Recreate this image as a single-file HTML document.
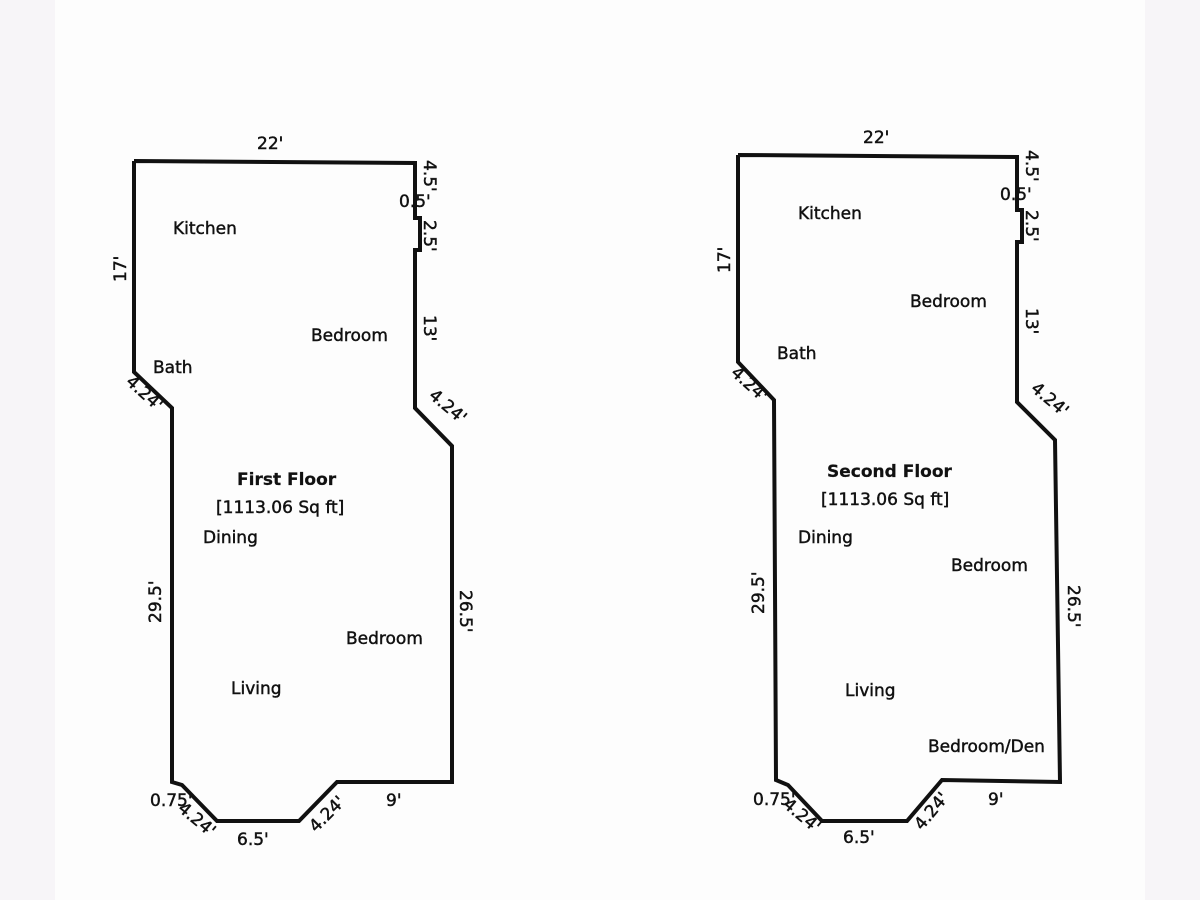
<!DOCTYPE html>
<html><head><meta charset="utf-8"><style>
html,body{margin:0;padding:0;background:#f7f5f8;}
svg{display:block;}
text{font-family:"DejaVu Sans","Liberation Sans",sans-serif;font-size:17px;fill:#111;stroke:#111;stroke-width:0.45px;}
.b{font-weight:bold;stroke-width:0.2px;}
</style></head><body>
<svg width="1200" height="900" xmlns="http://www.w3.org/2000/svg">
<rect x="0" y="0" width="1200" height="900" fill="#f7f5f8"/>
<rect x="55" y="0" width="1090" height="900" fill="#fdfdfd"/>
<g fill="none" stroke="#111" stroke-width="4" stroke-linejoin="miter">
<polyline points="134,161 415,163 415,218 420,218 420,250 415,250 415,408 452,446 452,782 337,782 299,821 217,821 182,785 172,782 172,408 134,372 134,161"/>
<polyline points="738,155 1017,157 1017,210 1022,210 1022,242 1017,242 1017,402 1055,440 1060,782 942,780 907,821 822,821 788,785 776,780 774,400 738,362 738,155"/>
</g>
<!-- First floor -->
<text x="257" y="149">22'</text>
<text x="173" y="234">Kitchen</text>
<text x="311" y="341">Bedroom</text>
<text x="153" y="373">Bath</text>
<text class="b" x="237" y="485">First Floor</text>
<text x="216" y="513">[1113.06 Sq ft]</text>
<text x="203" y="543">Dining</text>
<text x="346" y="644">Bedroom</text>
<text x="231" y="694">Living</text>
<text x="399" y="207">0.5'</text>
<text x="386" y="806">9'</text>
<text x="237" y="845">6.5'</text>
<text x="150" y="806">0.75'</text>
<text transform="translate(126,282) rotate(-90)">17'</text>
<text transform="translate(424,160) rotate(90)">4.5'</text>
<text transform="translate(424,220) rotate(90)">2.5'</text>
<text transform="translate(424,315) rotate(90)">13'</text>
<text transform="translate(428,397) rotate(40)">4.24'</text>
<text transform="translate(125,383) rotate(42)">4.24'</text>
<text transform="translate(161,623) rotate(-90)">29.5'</text>
<text transform="translate(460,590) rotate(90)">26.5'</text>
<text transform="translate(316,833) rotate(-45)">4.24'</text>
<text transform="translate(177,810) rotate(40)">4.24'</text>
<!-- Second floor -->
<text x="863" y="143">22'</text>
<text x="798" y="219">Kitchen</text>
<text x="910" y="307">Bedroom</text>
<text x="777" y="359">Bath</text>
<text class="b" x="827" y="477">Second Floor</text>
<text x="821" y="505">[1113.06 Sq ft]</text>
<text x="798" y="543">Dining</text>
<text x="951" y="571">Bedroom</text>
<text x="845" y="696">Living</text>
<text x="928" y="752">Bedroom/Den</text>
<text x="1000" y="200">0.5'</text>
<text x="988" y="805">9'</text>
<text x="843" y="843">6.5'</text>
<text x="753" y="805">0.75'</text>
<text transform="translate(730,273) rotate(-90)">17'</text>
<text transform="translate(1026,150) rotate(90)">4.5'</text>
<text transform="translate(1026,210) rotate(90)">2.5'</text>
<text transform="translate(1026,308) rotate(90)">13'</text>
<text transform="translate(1030,390) rotate(40)">4.24'</text>
<text transform="translate(730,374) rotate(42)">4.24'</text>
<text transform="translate(764,614) rotate(-90)">29.5'</text>
<text transform="translate(1068,585) rotate(90)">26.5'</text>
<text transform="translate(922,831) rotate(-50)">4.24'</text>
<text transform="translate(782,806) rotate(40)">4.24'</text>
</svg>
</body></html>
